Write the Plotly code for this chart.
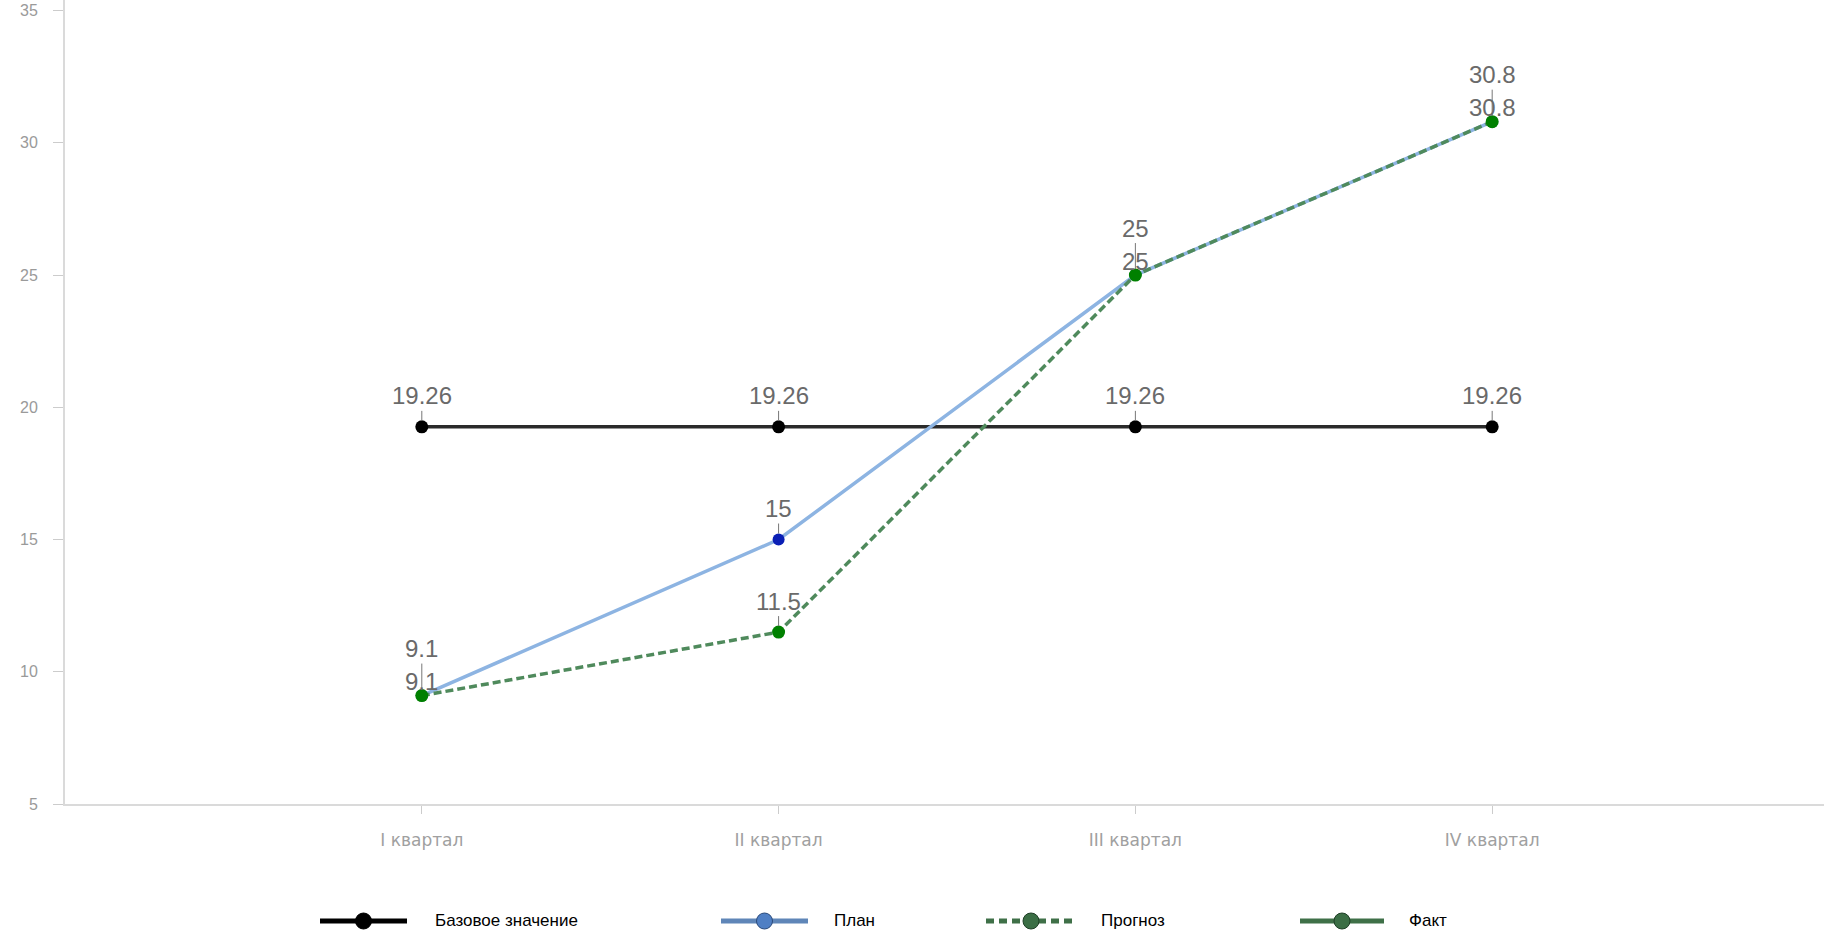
import plotly.graph_objects as go

# ---------------- data ----------------
categories = ["I квартал", "II квартал", "III квартал", "IV квартал"]
base_values = [19.26, 19.26, 19.26, 19.26]
plan_values = [9.1, 15, 25, 30.8]
forecast_values = [9.1, 11.5, 25, 30.8]
fact_values = [None, None, None, None]

series_names = ["Базовое значение", "План", "Прогноз", "Факт"]
y_ticks = [5, 10, 15, 20, 25, 30, 35]

# ---------------- geometry / style ----------------
W, H = 1824, 935
ML, MR, MT, MB = 65, 0, 0, 131
PW, PH = W - ML - MR, H - MT - MB


def xp(px):
    return (px - ML) / PW


def yp(py):
    return (H - MB - py) / PH


LABEL_FONT = dict(family="Liberation Sans, Arial, sans-serif", size=24, color="#6A6A6A")

fig = go.Figure()

fig.add_trace(go.Scatter(
    x=categories, y=base_values, name=series_names[0], mode="lines+markers",
    line=dict(color="#2A2A2A", width=3.5),
    marker=dict(color="#000000", size=13),
    showlegend=False, cliponaxis=False,
))
fig.add_trace(go.Scatter(
    x=categories, y=plan_values, name=series_names[1], mode="lines+markers",
    line=dict(color="#8DB4E2", width=3.5),
    marker=dict(color="#0A1FB5", size=12),
    showlegend=False, cliponaxis=False,
))
fig.add_trace(go.Scatter(
    x=categories, y=forecast_values, name=series_names[2], mode="lines+markers",
    line=dict(color="#4F8A5C", width=3.5, dash="8px,4px"),
    marker=dict(color="#008000", size=13),
    showlegend=False, cliponaxis=False,
))
fig.add_trace(go.Scatter(
    x=categories, y=fact_values, name=series_names[3], mode="lines+markers",
    line=dict(color="#3F7048", width=3.5),
    marker=dict(color="#3B6E45", size=13),
    showlegend=False, cliponaxis=False,
))

# ---------------- value labels with leader lines ----------------
label_series = [base_values, plan_values, forecast_values]
for s_idx, vals in enumerate(label_series):
    for i, v in enumerate(vals):
        if v is None:
            continue
        others_same = [j for j, o in enumerate(label_series) if j != s_idx and o[i] == v]
        if others_same:
            ay = -47 if s_idx < min(others_same) else -14
        else:
            ay = -31
        fig.add_annotation(
            x=categories[i], y=v, text=f"{v:g}", showarrow=True,
            ax=0, ay=ay, arrowhead=0, arrowwidth=1, arrowcolor="#777777",
            standoff=6, font=LABEL_FONT,
        )

# ---------------- custom legend ----------------
legend_items = [
    # (line x0, line x1, text x, line color, dash, marker fill, marker outline)
    (320, 407, 433, "#000000", "solid", "#000000", "#000000"),
    (721, 808, 832, "#5F86B8", "solid", "#4F7FC4", "#2B4A7A"),
    (986, 1076, 1099, "#3F7048", "dash", "#3B6E45", "#1F3F26"),
    (1300, 1384, 1407, "#3F7048", "solid", "#3B6E45", "#1F3F26"),
]
LEG_Y = 921
for (x0, x1, tx, lc, dash, mf, mo), name in zip(legend_items, series_names):
    fig.add_shape(type="line", xref="paper", yref="paper",
                  x0=xp(x0), x1=xp(x1), y0=yp(LEG_Y), y1=yp(LEG_Y),
                  line=dict(color=lc, width=5, dash=dash if dash == "solid" else "8px,5px"))
    cx = xp((x0 + x1) / 2)
    fig.add_shape(type="circle", xref="paper", yref="paper",
                  xsizemode="pixel", ysizemode="pixel",
                  xanchor=cx, yanchor=yp(LEG_Y),
                  x0=-8, x1=8, y0=-8, y1=8,
                  fillcolor=mf, line=dict(color=mo, width=1))
    fig.add_annotation(xref="paper", yref="paper", x=xp(tx), y=yp(LEG_Y),
                       text=name, showarrow=False, xanchor="left", yanchor="middle",
                       font=dict(family="Liberation Sans, Arial, sans-serif", size=17, color="#000000"))

fig.update_layout(
    width=W, height=H,
    margin=dict(l=ML, r=MR, t=MT, b=MB, pad=0),
    plot_bgcolor="white", paper_bgcolor="white",
    showlegend=False,
    font=dict(family="Liberation Sans, Arial, sans-serif"),
)
fig.update_xaxes(
    type="category", range=[-1, 3.93],
    showgrid=False, zeroline=False,
    showline=True, linecolor="#DADADA", linewidth=2,
    ticks="outside", ticklen=8, tickcolor="#CCCCCC", tickwidth=1,
    tickfont=dict(family="DejaVu Sans, sans-serif", size=17, color="#A0A0A0"),
    ticklabelstandoff=12,
)
fig.update_yaxes(
    range=[5, 35.4], tickvals=y_ticks,
    showgrid=False, zeroline=False,
    showline=True, linecolor="#DADADA", linewidth=2,
    ticks="outside", ticklen=10, tickcolor="#CCCCCC", tickwidth=1,
    tickfont=dict(family="Liberation Sans, Arial, sans-serif", size=16, color="#9A9A9A"),
    ticklabelstandoff=12,
)

fig.write_html(
    "out.html",
    config={"displayModeBar": False},
    post_script="document.body.style.margin='0';document.body.style.overflow='hidden';",
)
